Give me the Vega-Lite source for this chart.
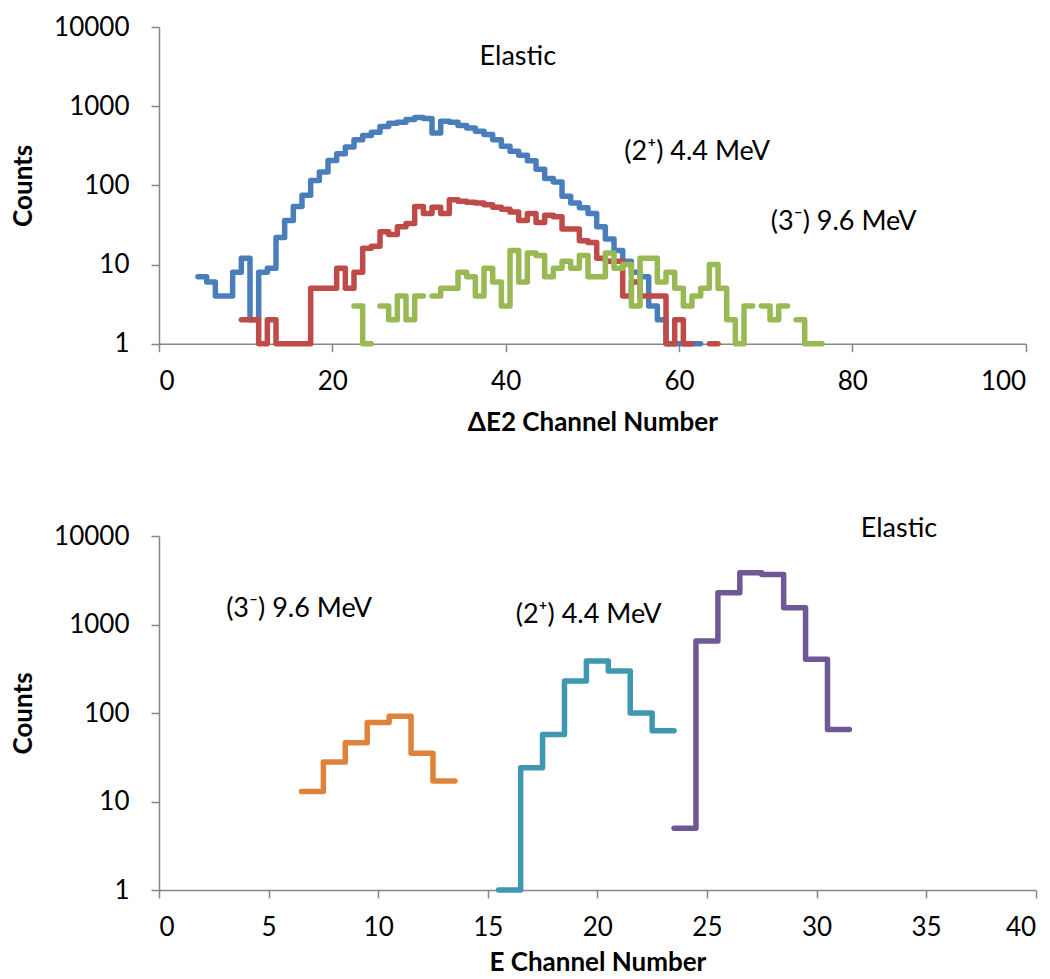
{
  "$schema": "https://vega.github.io/schema/vega-lite/v6.json",
  "background": "white",
  "padding": {"left": 10, "top": 14, "right": 5, "bottom": 5},
  "config": {
    "font": "Lato",
    "view": {"stroke": null},
    "axis": {
      "grid": false,
      "domainColor": "#868686",
      "tickColor": "#868686",
      "domainWidth": 1.5,
      "tickWidth": 1.5,
      "tickSize": 8,
      "labelFont": "Lato",
      "labelFontSize": 26,
      "labelColor": "#000000",
      "titleFont": "Lato",
      "titleFontSize": 26,
      "titleFontWeight": "bold",
      "titleColor": "#000000"
    }
  },
  "datasets": {
    "hist": [
      {"panel": "top", "s": "b", "g": "b1", "x": 4.5, "y": 7},
      {"panel": "top", "s": "b", "g": "b1", "x": 5, "y": 7},
      {"panel": "top", "s": "b", "g": "b1", "x": 6, "y": 6},
      {"panel": "top", "s": "b", "g": "b1", "x": 7, "y": 4},
      {"panel": "top", "s": "b", "g": "b1", "x": 8, "y": 4},
      {"panel": "top", "s": "b", "g": "b1", "x": 9, "y": 8},
      {"panel": "top", "s": "b", "g": "b1", "x": 10, "y": 12},
      {"panel": "top", "s": "b", "g": "b1", "x": 11, "y": 2},
      {"panel": "top", "s": "b", "g": "b1", "x": 12, "y": 8},
      {"panel": "top", "s": "b", "g": "b1", "x": 13, "y": 9},
      {"panel": "top", "s": "b", "g": "b1", "x": 14, "y": 22},
      {"panel": "top", "s": "b", "g": "b1", "x": 15, "y": 36},
      {"panel": "top", "s": "b", "g": "b1", "x": 16, "y": 54},
      {"panel": "top", "s": "b", "g": "b1", "x": 17, "y": 75},
      {"panel": "top", "s": "b", "g": "b1", "x": 18, "y": 115},
      {"panel": "top", "s": "b", "g": "b1", "x": 19, "y": 147},
      {"panel": "top", "s": "b", "g": "b1", "x": 20, "y": 206},
      {"panel": "top", "s": "b", "g": "b1", "x": 21, "y": 250},
      {"panel": "top", "s": "b", "g": "b1", "x": 22, "y": 304},
      {"panel": "top", "s": "b", "g": "b1", "x": 23, "y": 376},
      {"panel": "top", "s": "b", "g": "b1", "x": 24, "y": 427},
      {"panel": "top", "s": "b", "g": "b1", "x": 25, "y": 470},
      {"panel": "top", "s": "b", "g": "b1", "x": 26, "y": 555},
      {"panel": "top", "s": "b", "g": "b1", "x": 27, "y": 610},
      {"panel": "top", "s": "b", "g": "b1", "x": 28, "y": 628},
      {"panel": "top", "s": "b", "g": "b1", "x": 29, "y": 680},
      {"panel": "top", "s": "b", "g": "b1", "x": 30, "y": 720},
      {"panel": "top", "s": "b", "g": "b1", "x": 31, "y": 700},
      {"panel": "top", "s": "b", "g": "b1", "x": 32, "y": 460},
      {"panel": "top", "s": "b", "g": "b1", "x": 33, "y": 646},
      {"panel": "top", "s": "b", "g": "b1", "x": 34, "y": 628},
      {"panel": "top", "s": "b", "g": "b1", "x": 35, "y": 570},
      {"panel": "top", "s": "b", "g": "b1", "x": 36, "y": 532},
      {"panel": "top", "s": "b", "g": "b1", "x": 37, "y": 483},
      {"panel": "top", "s": "b", "g": "b1", "x": 38, "y": 438},
      {"panel": "top", "s": "b", "g": "b1", "x": 39, "y": 378},
      {"panel": "top", "s": "b", "g": "b1", "x": 40, "y": 311},
      {"panel": "top", "s": "b", "g": "b1", "x": 41, "y": 269},
      {"panel": "top", "s": "b", "g": "b1", "x": 42, "y": 240},
      {"panel": "top", "s": "b", "g": "b1", "x": 43, "y": 205},
      {"panel": "top", "s": "b", "g": "b1", "x": 44, "y": 160},
      {"panel": "top", "s": "b", "g": "b1", "x": 45, "y": 122},
      {"panel": "top", "s": "b", "g": "b1", "x": 46, "y": 110},
      {"panel": "top", "s": "b", "g": "b1", "x": 47, "y": 73},
      {"panel": "top", "s": "b", "g": "b1", "x": 48, "y": 60},
      {"panel": "top", "s": "b", "g": "b1", "x": 49, "y": 52},
      {"panel": "top", "s": "b", "g": "b1", "x": 50, "y": 44},
      {"panel": "top", "s": "b", "g": "b1", "x": 51, "y": 30},
      {"panel": "top", "s": "b", "g": "b1", "x": 52, "y": 21},
      {"panel": "top", "s": "b", "g": "b1", "x": 53, "y": 15},
      {"panel": "top", "s": "b", "g": "b1", "x": 54, "y": 11},
      {"panel": "top", "s": "b", "g": "b1", "x": 55, "y": 8},
      {"panel": "top", "s": "b", "g": "b1", "x": 56, "y": 7},
      {"panel": "top", "s": "b", "g": "b1", "x": 57, "y": 3},
      {"panel": "top", "s": "b", "g": "b1", "x": 58, "y": 2},
      {"panel": "top", "s": "b", "g": "b1", "x": 59, "y": 1},
      {"panel": "top", "s": "b", "g": "b1", "x": 60, "y": 1},
      {"panel": "top", "s": "b", "g": "b1", "x": 61, "y": 1},
      {"panel": "top", "s": "b", "g": "b1", "x": 62, "y": 1},
      {"panel": "top", "s": "b", "g": "b1", "x": 62.5, "y": 1},

      {"panel": "top", "s": "r", "g": "r1", "x": 9.5, "y": 2},
      {"panel": "top", "s": "r", "g": "r1", "x": 10, "y": 2},
      {"panel": "top", "s": "r", "g": "r1", "x": 11, "y": 2},
      {"panel": "top", "s": "r", "g": "r1", "x": 12, "y": 1},
      {"panel": "top", "s": "r", "g": "r1", "x": 13, "y": 2},
      {"panel": "top", "s": "r", "g": "r1", "x": 14, "y": 1},
      {"panel": "top", "s": "r", "g": "r1", "x": 15, "y": 1},
      {"panel": "top", "s": "r", "g": "r1", "x": 16, "y": 1},
      {"panel": "top", "s": "r", "g": "r1", "x": 17, "y": 1},
      {"panel": "top", "s": "r", "g": "r1", "x": 18, "y": 5},
      {"panel": "top", "s": "r", "g": "r1", "x": 19, "y": 5},
      {"panel": "top", "s": "r", "g": "r1", "x": 20, "y": 5},
      {"panel": "top", "s": "r", "g": "r1", "x": 21, "y": 9},
      {"panel": "top", "s": "r", "g": "r1", "x": 22, "y": 5},
      {"panel": "top", "s": "r", "g": "r1", "x": 23, "y": 8},
      {"panel": "top", "s": "r", "g": "r1", "x": 24, "y": 16},
      {"panel": "top", "s": "r", "g": "r1", "x": 25, "y": 17},
      {"panel": "top", "s": "r", "g": "r1", "x": 26, "y": 26},
      {"panel": "top", "s": "r", "g": "r1", "x": 27, "y": 24},
      {"panel": "top", "s": "r", "g": "r1", "x": 28, "y": 30},
      {"panel": "top", "s": "r", "g": "r1", "x": 29, "y": 33},
      {"panel": "top", "s": "r", "g": "r1", "x": 30, "y": 54},
      {"panel": "top", "s": "r", "g": "r1", "x": 31, "y": 44},
      {"panel": "top", "s": "r", "g": "r1", "x": 32, "y": 53},
      {"panel": "top", "s": "r", "g": "r1", "x": 33, "y": 44},
      {"panel": "top", "s": "r", "g": "r1", "x": 34, "y": 66},
      {"panel": "top", "s": "r", "g": "r1", "x": 35, "y": 63},
      {"panel": "top", "s": "r", "g": "r1", "x": 36, "y": 61},
      {"panel": "top", "s": "r", "g": "r1", "x": 37, "y": 60},
      {"panel": "top", "s": "r", "g": "r1", "x": 38, "y": 57},
      {"panel": "top", "s": "r", "g": "r1", "x": 39, "y": 53},
      {"panel": "top", "s": "r", "g": "r1", "x": 40, "y": 50},
      {"panel": "top", "s": "r", "g": "r1", "x": 41, "y": 46},
      {"panel": "top", "s": "r", "g": "r1", "x": 42, "y": 36},
      {"panel": "top", "s": "r", "g": "r1", "x": 43, "y": 44},
      {"panel": "top", "s": "r", "g": "r1", "x": 44, "y": 34},
      {"panel": "top", "s": "r", "g": "r1", "x": 45, "y": 42},
      {"panel": "top", "s": "r", "g": "r1", "x": 46, "y": 40},
      {"panel": "top", "s": "r", "g": "r1", "x": 47, "y": 28},
      {"panel": "top", "s": "r", "g": "r1", "x": 48, "y": 28},
      {"panel": "top", "s": "r", "g": "r1", "x": 49, "y": 20},
      {"panel": "top", "s": "r", "g": "r1", "x": 50, "y": 19},
      {"panel": "top", "s": "r", "g": "r1", "x": 51, "y": 12},
      {"panel": "top", "s": "r", "g": "r1", "x": 52, "y": 11},
      {"panel": "top", "s": "r", "g": "r1", "x": 53, "y": 11},
      {"panel": "top", "s": "r", "g": "r1", "x": 54, "y": 4},
      {"panel": "top", "s": "r", "g": "r1", "x": 55, "y": 6},
      {"panel": "top", "s": "r", "g": "r1", "x": 56, "y": 4},
      {"panel": "top", "s": "r", "g": "r1", "x": 57, "y": 4},
      {"panel": "top", "s": "r", "g": "r1", "x": 58, "y": 4},
      {"panel": "top", "s": "r", "g": "r1", "x": 59, "y": 1},
      {"panel": "top", "s": "r", "g": "r1", "x": 60, "y": 2},
      {"panel": "top", "s": "r", "g": "r1", "x": 61, "y": 1},
      {"panel": "top", "s": "r", "g": "r1", "x": 61.5, "y": 1},
      {"panel": "top", "s": "r", "g": "r2", "x": 63.5, "y": 1},
      {"panel": "top", "s": "r", "g": "r2", "x": 64, "y": 1},
      {"panel": "top", "s": "r", "g": "r2", "x": 64.5, "y": 1},

      {"panel": "top", "s": "g", "g": "g1", "x": 22.5, "y": 3},
      {"panel": "top", "s": "g", "g": "g1", "x": 23, "y": 3},
      {"panel": "top", "s": "g", "g": "g1", "x": 24, "y": 1},
      {"panel": "top", "s": "g", "g": "g1", "x": 24.5, "y": 1},
      {"panel": "top", "s": "g", "g": "g2", "x": 25.5, "y": 3},
      {"panel": "top", "s": "g", "g": "g2", "x": 26, "y": 3},
      {"panel": "top", "s": "g", "g": "g2", "x": 27, "y": 2},
      {"panel": "top", "s": "g", "g": "g2", "x": 28, "y": 4},
      {"panel": "top", "s": "g", "g": "g2", "x": 29, "y": 2},
      {"panel": "top", "s": "g", "g": "g2", "x": 30, "y": 4},
      {"panel": "top", "s": "g", "g": "g2", "x": 30.5, "y": 4},
      {"panel": "top", "s": "g", "g": "g3", "x": 31.5, "y": 4},
      {"panel": "top", "s": "g", "g": "g3", "x": 32, "y": 4},
      {"panel": "top", "s": "g", "g": "g3", "x": 33, "y": 5},
      {"panel": "top", "s": "g", "g": "g3", "x": 34, "y": 5},
      {"panel": "top", "s": "g", "g": "g3", "x": 35, "y": 8},
      {"panel": "top", "s": "g", "g": "g3", "x": 36, "y": 7},
      {"panel": "top", "s": "g", "g": "g3", "x": 37, "y": 4},
      {"panel": "top", "s": "g", "g": "g3", "x": 38, "y": 9},
      {"panel": "top", "s": "g", "g": "g3", "x": 39, "y": 6},
      {"panel": "top", "s": "g", "g": "g3", "x": 40, "y": 3},
      {"panel": "top", "s": "g", "g": "g3", "x": 41, "y": 15},
      {"panel": "top", "s": "g", "g": "g3", "x": 42, "y": 6},
      {"panel": "top", "s": "g", "g": "g3", "x": 43, "y": 14},
      {"panel": "top", "s": "g", "g": "g3", "x": 44, "y": 13},
      {"panel": "top", "s": "g", "g": "g3", "x": 45, "y": 7},
      {"panel": "top", "s": "g", "g": "g3", "x": 46, "y": 9},
      {"panel": "top", "s": "g", "g": "g3", "x": 47, "y": 11},
      {"panel": "top", "s": "g", "g": "g3", "x": 48, "y": 9},
      {"panel": "top", "s": "g", "g": "g3", "x": 49, "y": 13},
      {"panel": "top", "s": "g", "g": "g3", "x": 50, "y": 7},
      {"panel": "top", "s": "g", "g": "g3", "x": 51, "y": 7},
      {"panel": "top", "s": "g", "g": "g3", "x": 52, "y": 14},
      {"panel": "top", "s": "g", "g": "g3", "x": 53, "y": 9},
      {"panel": "top", "s": "g", "g": "g3", "x": 54, "y": 10},
      {"panel": "top", "s": "g", "g": "g3", "x": 55, "y": 3},
      {"panel": "top", "s": "g", "g": "g3", "x": 56, "y": 12},
      {"panel": "top", "s": "g", "g": "g3", "x": 57, "y": 12},
      {"panel": "top", "s": "g", "g": "g3", "x": 58, "y": 6},
      {"panel": "top", "s": "g", "g": "g3", "x": 59, "y": 8},
      {"panel": "top", "s": "g", "g": "g3", "x": 60, "y": 5},
      {"panel": "top", "s": "g", "g": "g3", "x": 61, "y": 3},
      {"panel": "top", "s": "g", "g": "g3", "x": 62, "y": 4},
      {"panel": "top", "s": "g", "g": "g3", "x": 63, "y": 5},
      {"panel": "top", "s": "g", "g": "g3", "x": 64, "y": 10},
      {"panel": "top", "s": "g", "g": "g3", "x": 65, "y": 5},
      {"panel": "top", "s": "g", "g": "g3", "x": 66, "y": 2},
      {"panel": "top", "s": "g", "g": "g3", "x": 67, "y": 1},
      {"panel": "top", "s": "g", "g": "g3", "x": 68, "y": 3},
      {"panel": "top", "s": "g", "g": "g3", "x": 68.5, "y": 3},
      {"panel": "top", "s": "g", "g": "g4", "x": 69.5, "y": 3},
      {"panel": "top", "s": "g", "g": "g4", "x": 70, "y": 3},
      {"panel": "top", "s": "g", "g": "g4", "x": 71, "y": 2},
      {"panel": "top", "s": "g", "g": "g4", "x": 72, "y": 3},
      {"panel": "top", "s": "g", "g": "g4", "x": 72.5, "y": 3},
      {"panel": "top", "s": "g", "g": "g5", "x": 73.5, "y": 2},
      {"panel": "top", "s": "g", "g": "g5", "x": 74, "y": 2},
      {"panel": "top", "s": "g", "g": "g5", "x": 75, "y": 1},
      {"panel": "top", "s": "g", "g": "g5", "x": 76, "y": 1},
      {"panel": "top", "s": "g", "g": "g5", "x": 76.5, "y": 1},

      {"panel": "bottom", "s": "o", "g": "o1", "x": 6.5, "y": 13},
      {"panel": "bottom", "s": "o", "g": "o1", "x": 7, "y": 13},
      {"panel": "bottom", "s": "o", "g": "o1", "x": 8, "y": 28},
      {"panel": "bottom", "s": "o", "g": "o1", "x": 9, "y": 46},
      {"panel": "bottom", "s": "o", "g": "o1", "x": 10, "y": 78},
      {"panel": "bottom", "s": "o", "g": "o1", "x": 11, "y": 92},
      {"panel": "bottom", "s": "o", "g": "o1", "x": 12, "y": 35},
      {"panel": "bottom", "s": "o", "g": "o1", "x": 13, "y": 17},
      {"panel": "bottom", "s": "o", "g": "o1", "x": 13.5, "y": 17},
      {"panel": "bottom", "s": "t", "g": "t1", "x": 15.5, "y": 1},
      {"panel": "bottom", "s": "t", "g": "t1", "x": 16, "y": 1},
      {"panel": "bottom", "s": "t", "g": "t1", "x": 17, "y": 24},
      {"panel": "bottom", "s": "t", "g": "t1", "x": 18, "y": 57},
      {"panel": "bottom", "s": "t", "g": "t1", "x": 19, "y": 230},
      {"panel": "bottom", "s": "t", "g": "t1", "x": 20, "y": 387},
      {"panel": "bottom", "s": "t", "g": "t1", "x": 21, "y": 298},
      {"panel": "bottom", "s": "t", "g": "t1", "x": 22, "y": 100},
      {"panel": "bottom", "s": "t", "g": "t1", "x": 23, "y": 63},
      {"panel": "bottom", "s": "t", "g": "t1", "x": 23.5, "y": 63},
      {"panel": "bottom", "s": "p", "g": "p1", "x": 23.5, "y": 5},
      {"panel": "bottom", "s": "p", "g": "p1", "x": 24, "y": 5},
      {"panel": "bottom", "s": "p", "g": "p1", "x": 25, "y": 650},
      {"panel": "bottom", "s": "p", "g": "p1", "x": 26, "y": 2280},
      {"panel": "bottom", "s": "p", "g": "p1", "x": 27, "y": 3850},
      {"panel": "bottom", "s": "p", "g": "p1", "x": 28, "y": 3680},
      {"panel": "bottom", "s": "p", "g": "p1", "x": 29, "y": 1550},
      {"panel": "bottom", "s": "p", "g": "p1", "x": 30, "y": 404},
      {"panel": "bottom", "s": "p", "g": "p1", "x": 31, "y": 65},
      {"panel": "bottom", "s": "p", "g": "p1", "x": 31.5, "y": 65}
    ],
    "notes": [
      {"panel": "top", "x": 41.4, "y": 4120, "t": "Elastic"},
      {"panel": "top", "x": 62.1, "y": 260, "t": "(2⁺) 4.4 MeV"},
      {"panel": "top", "x": 79.0, "y": 34, "t": "(3⁻) 9.6 MeV"},
      {"panel": "bottom", "x": 33.76, "y": 12000, "t": "Elastic"},
      {"panel": "bottom", "x": 6.39, "y": 1496, "t": "(3⁻) 9.6 MeV"},
      {"panel": "bottom", "x": 19.6, "y": 1280, "t": "(2⁺) 4.4 MeV"}
    ]
  },
  "bounds": "flush",
  "spacing": 192,
  "resolve": {"scale": {"color": "independent"}},
  "vconcat": [
    {
      "width": 866.7,
      "height": 316.7,
      "layer": [
        {
          "data": {"name": "hist"},
          "transform": [{"filter": "datum.panel == 'top'"}],
          "mark": {"type": "line", "interpolate": "step", "strokeWidth": 5.5, "strokeCap": "round", "strokeJoin": "round"},
          "encoding": {
            "x": {"field": "x", "type": "quantitative", "scale": {"domain": [0, 100], "nice": false, "zero": false},
                  "axis": {"values": [0, 20, 40, 60, 80, 100], "title": "ΔE2 Channel Number", "labelPadding": 17, "titlePadding": 15}},
            "y": {"field": "y", "type": "quantitative", "scale": {"type": "log", "domain": [1, 10000], "nice": false},
                  "axis": {"values": [1, 10, 100, 1000, 10000], "format": "d", "title": "Counts", "labelPadding": 22, "titlePadding": 17}},
            "color": {"field": "s", "type": "nominal", "legend": null,
                      "scale": {"domain": ["b", "r", "g", "o", "t", "p"], "range": ["#4A7EBB", "#BE4B48", "#98B954", "#E0833A", "#3F97B0", "#6F5994"]}},
            "detail": {"field": "g"}
          }
        },
        {
          "data": {"name": "notes"},
          "transform": [{"filter": "datum.panel == 'top'"}],
          "mark": {"type": "text", "fontSize": 27, "font": "Lato", "color": "#000000", "align": "center", "baseline": "middle"},
          "encoding": {
            "x": {"field": "x", "type": "quantitative"},
            "y": {"field": "y", "type": "quantitative"},
            "text": {"field": "t"}
          }
        }
      ]
    },
    {
      "width": 876.7,
      "height": 354,
      "layer": [
        {
          "data": {"name": "hist"},
          "transform": [{"filter": "datum.panel == 'bottom'"}],
          "mark": {"type": "line", "interpolate": "step", "strokeWidth": 5.5, "strokeCap": "round", "strokeJoin": "round"},
          "encoding": {
            "x": {"field": "x", "type": "quantitative", "scale": {"domain": [0, 40], "nice": false, "zero": false},
                  "axis": {"values": [0, 5, 10, 15, 20, 25, 30, 35, 40], "title": "E Channel Number", "labelPadding": 16, "titlePadding": 9}},
            "y": {"field": "y", "type": "quantitative", "scale": {"type": "log", "domain": [1, 10000], "nice": false},
                  "axis": {"values": [1, 10, 100, 1000, 10000], "format": "d", "title": "Counts", "labelPadding": 22, "titlePadding": 17}},
            "color": {"field": "s", "type": "nominal", "legend": null,
                      "scale": {"domain": ["b", "r", "g", "o", "t", "p"], "range": ["#4A7EBB", "#BE4B48", "#98B954", "#E0833A", "#3F97B0", "#6F5994"]}},
            "detail": {"field": "g"}
          }
        },
        {
          "data": {"name": "notes"},
          "transform": [{"filter": "datum.panel == 'bottom'"}],
          "mark": {"type": "text", "fontSize": 27, "font": "Lato", "color": "#000000", "align": "center", "baseline": "middle"},
          "encoding": {
            "x": {"field": "x", "type": "quantitative"},
            "y": {"field": "y", "type": "quantitative"},
            "text": {"field": "t"}
          }
        }
      ]
    }
  ]
}
